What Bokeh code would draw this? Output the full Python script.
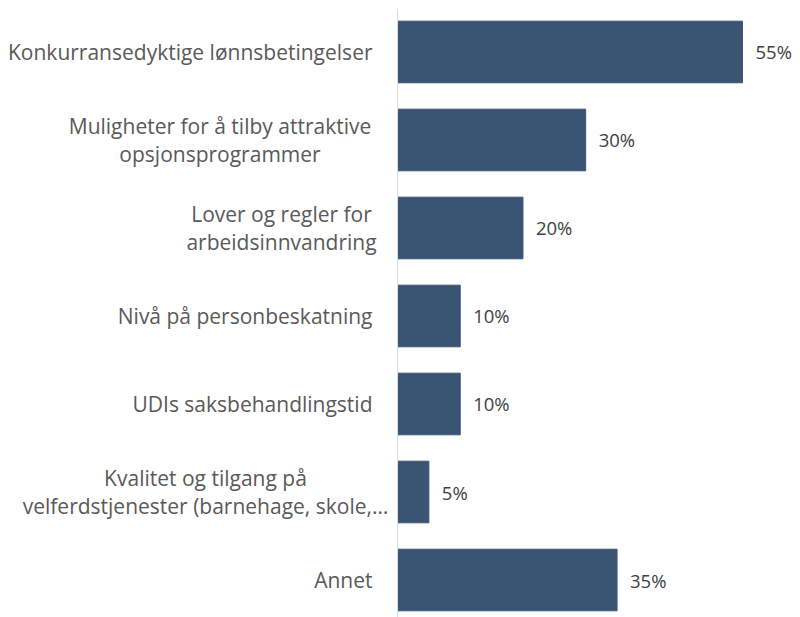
from bokeh.plotting import figure
from bokeh.models import Range1d, ColumnDataSource, LabelSet, Span
from bokeh.core.properties import value
from bokeh.embed import file_html
from bokeh.resources import INLINE

categories = [
    "Konkurransedyktige lønnsbetingelser",
    "Muligheter for å tilby attraktive\nopsjonsprogrammer",
    "Lover og regler for\narbeidsinnvandring",
    "Nivå på personbeskatning",
    "UDIs saksbehandlingstid",
    "Kvalitet og tilgang på\nvelferdstjenester (barnehage, skole,…",
    "Annet",
]
values = [55, 30, 20, 10, 10, 5, 35]
value_labels = ["55%", "30%", "20%", "10%", "10%", "5%", "35%"]

n = len(categories)
ypos = [n - 1 - i + 0.5 for i in range(n)]

# layout: frame spans the whole figure; pixel -> data conversion for label placement
W, H = 800, 617
axis_px = 397
px_per_unit = 345 / 55.0
x_start = -axis_px / px_per_unit
x_end = (W - axis_px) / px_per_unit

def px_to_x(px):
    return (px - axis_px) / px_per_unit

# label anchors (pixel centres for wrapped labels, right edge for single-line ones)
label_right_px = 372
wrapped_centre_px = {1: 219.5, 2: 281, 5: 205}

single = dict(x=[], y=[], t=[])
multi = dict(x=[], y=[], t=[])
for i, (c, y) in enumerate(zip(categories, ypos)):
    if i in wrapped_centre_px:
        multi["x"].append(px_to_x(wrapped_centre_px[i]))
        multi["y"].append(y)
        multi["t"].append(c)
    else:
        single["x"].append(px_to_x(label_right_px))
        single["y"].append(y)
        single["t"].append(c)

src = ColumnDataSource(dict(y=ypos, v=values, lab=value_labels))

p = figure(width=W, height=H, output_backend="svg", toolbar_location=None,
           x_range=Range1d(x_start, x_end), y_range=Range1d(0.074, 6.994),
           min_border_left=0, min_border_right=0, min_border_top=8, min_border_bottom=0)

p.hbar(y="y", right="v", left=0, height=0.70, source=src, color="#3A5573", line_color="#3A5573")

p.add_layout(Span(location=0, dimension="height", line_color="#d9d9d9", line_width=1))

common = dict(text_font=value("Open Sans"), text_font_size=value("21px"),
              text_color="#595959", text_baseline="middle", text_line_height=1.0)
p.text(x="x", y="y", text="t", source=ColumnDataSource(single), text_align="right", **common)
p.text(x="x", y="y", text="t", source=ColumnDataSource(multi), text_align="center", **common)

labels = LabelSet(x="v", y="y", text="lab", source=src, x_offset=13, y_offset=0,
                  text_baseline="middle", text_align="left", text_font=value("Open Sans"),
                  text_font_size=value("18.5px"), text_color="#404040")
p.add_layout(labels)

p.xaxis.visible = False
p.yaxis.visible = False
p.grid.visible = False
p.outline_line_color = None

open("out.html", "w").write(file_html(p, INLINE))
